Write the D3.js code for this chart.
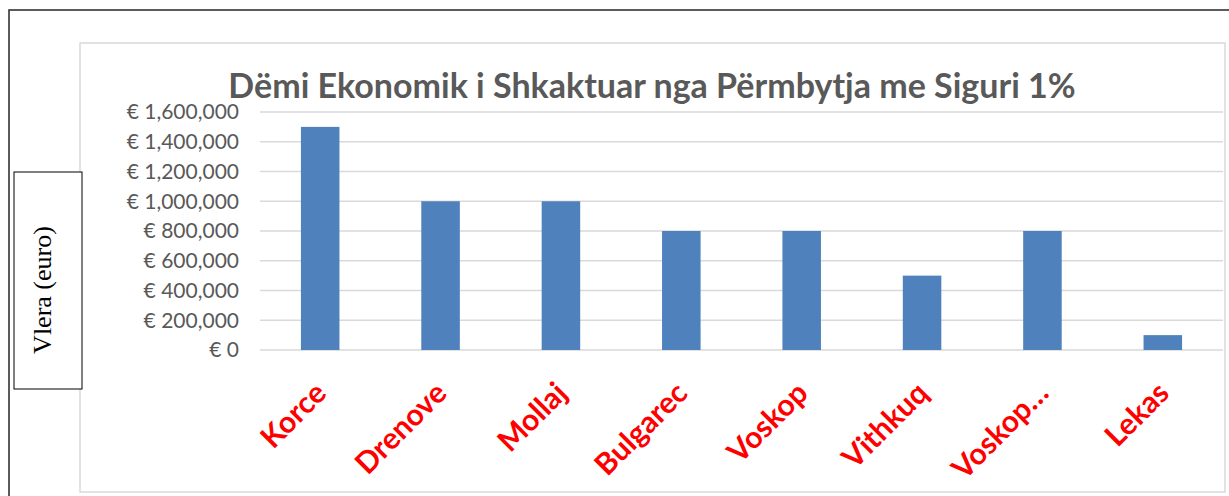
<!DOCTYPE html>
<html><head><meta charset="utf-8">
<script src="https://cdn.jsdelivr.net/npm/d3@7"></script>
<style>body{margin:0;background:#fff;}svg{display:block;}</style>
</head><body>
<script>
const categories = ["Korce","Drenove","Mollaj","Bulgarec","Voskop","Vithkuq","Voskop…","Lekas"];
const values = [1500000,1000000,1000000,800000,800000,500000,800000,100000];
const yTicks = [0,200000,400000,600000,800000,1000000,1200000,1400000,1600000];
const title = "Dëmi Ekonomik i Shkaktuar nga Përmbytja me Siguri 1%";
const yTitle = "Vlera (euro)";

const W = 1229, H = 496;
const svg = d3.select("body").append("svg").attr("width", W).attr("height", H);

// outer frame
svg.append("rect").attr("x",9).attr("y",10).attr("width",1240).attr("height",520)
  .attr("fill","none").attr("stroke","#333").attr("stroke-width",1.6);
// chart area border
svg.append("rect").attr("x",80).attr("y",43).attr("width",1145).attr("height",449)
  .attr("fill","#fff").attr("stroke","#d9d9d9").attr("stroke-width",1.5);

const plot = {l:260, r:1223, t:112, b:350};
const x = d3.scaleBand().domain(categories).range([plot.l, plot.r]).padding(0);
const y = d3.scaleLinear().domain([0,1600000]).range([plot.b, plot.t]);

// gridlines
svg.append("g").selectAll("line").data(yTicks).join("line")
  .attr("x1",plot.l).attr("x2",plot.r)
  .attr("y1",d=>y(d)).attr("y2",d=>y(d))
  .attr("stroke","#d9d9d9").attr("stroke-width",1.5);

// y axis labels
const fmt = d3.format(",");
svg.append("g").selectAll("text").data(yTicks).join("text")
  .attr("x",239).attr("y",d=>y(d)).attr("dy","0.35em")
  .attr("text-anchor","end")
  .attr("font-family","Lato, 'Open Sans', sans-serif")
  .attr("font-size",21).attr("fill","#595959")
  .text(d=>"€ " + fmt(d));

// bars
const bw = x.bandwidth()*0.32;
svg.append("g").selectAll("rect").data(values).join("rect")
  .attr("x",(d,i)=>x(categories[i]) + x.bandwidth()/2 - bw/2)
  .attr("width",bw)
  .attr("y",d=>y(d))
  .attr("height",d=>y(0)-y(d))
  .attr("fill","#4f81bd");

// x labels
svg.append("g").selectAll("text").data(categories).join("text")
  .attr("transform",d=>`translate(${x(d)+x.bandwidth()/2+8},${395}) rotate(-45)`)
  .attr("text-anchor","end")
  .attr("font-family","Lato, 'Open Sans', sans-serif")
  .attr("font-weight","bold")
  .attr("font-size",30).attr("fill","#ff0000")
  .text(d=>d);

// title
svg.append("text").attr("x",652).attr("y",98).attr("text-anchor","middle")
  .attr("font-family","Lato, 'Open Sans', sans-serif").attr("font-weight","bold")
  .attr("font-size",34).attr("fill","#595959").text(title);

// y title box
svg.append("rect").attr("x",14).attr("y",172).attr("width",68).attr("height",217)
  .attr("fill","#fff").attr("stroke","#000").attr("stroke-width",1);
svg.append("text").attr("transform","translate(51,290) rotate(-90)")
  .attr("text-anchor","middle")
  .attr("font-family","'Liberation Serif', 'Times New Roman', serif")
  .attr("font-size",26).attr("fill","#000").text(yTitle);
</script>
</body></html>
